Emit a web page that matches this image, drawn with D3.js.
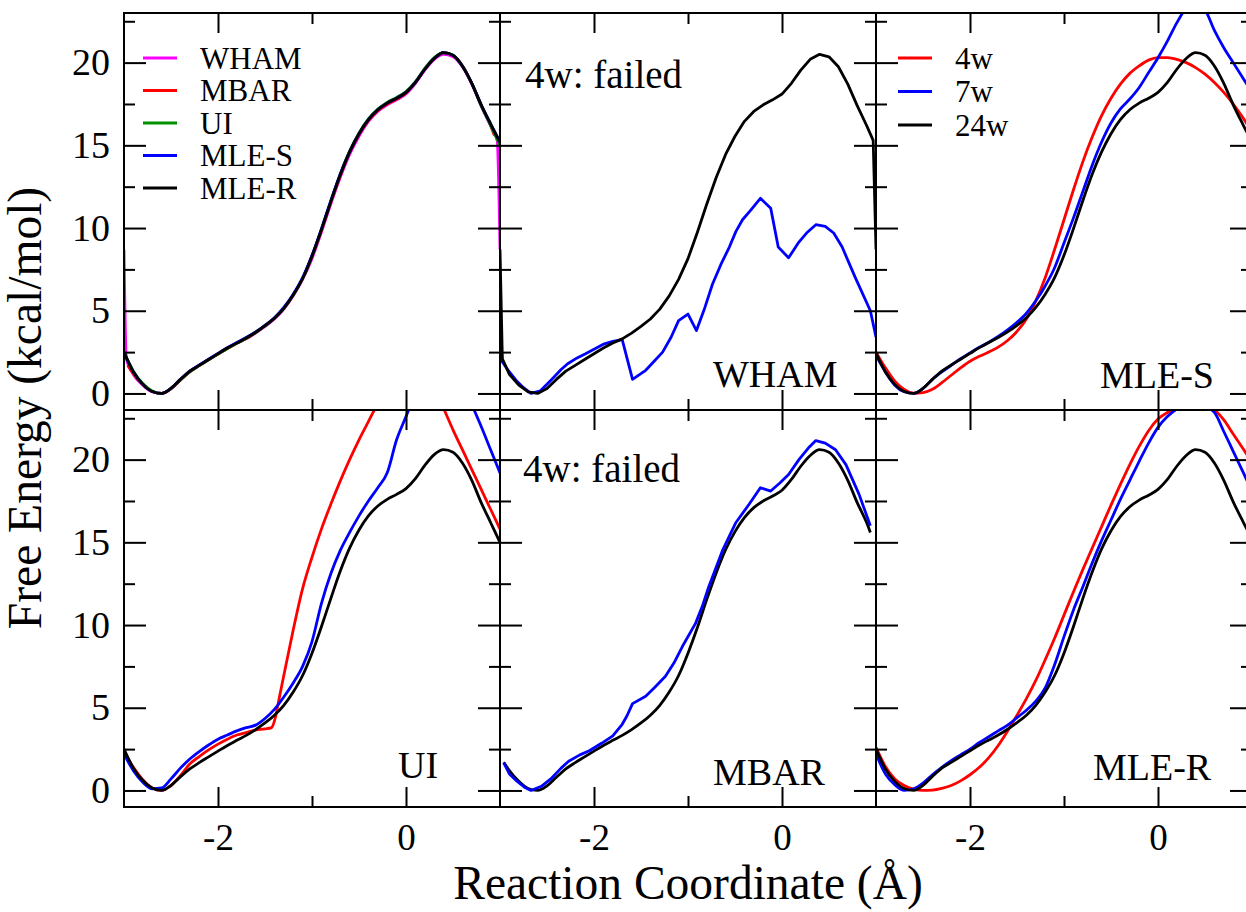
<!DOCTYPE html>
<html>
<head>
<meta charset="utf-8">
<script src="https://cdn.jsdelivr.net/npm/d3@7"></script>
<style>
  body { margin: 0; background: #fff; }
  svg { display: block; }
</style>
</head>
<body>
<svg id="chart" width="1246" height="912"></svg>
<script>
// ---------------- DATA ----------------
const xGrid = [-3.0,-2.9,-2.8,-2.7,-2.6,-2.5,-2.4,-2.3,-2.2,-2.1,-2.0,-1.9,-1.8,-1.7,-1.6,-1.5,-1.4,-1.3,-1.2,-1.1,-1.0,
               -0.9,-0.8,-0.7,-0.6,-0.5,-0.4,-0.3,-0.2,-0.1,0.0,0.1,0.2,0.3,0.4,0.5,0.6,0.7,0.8,0.9,1.0];

// 24-window results (panel 1, and black curves of the other panels)
const whamX = [-3.0,-2.975,-2.9,-2.8,-2.7,-2.6,-2.5,-2.4,-2.3,-2.2,-2.1,-2.0,-1.9,-1.8,-1.7,-1.6,-1.5,-1.4,-1.3,-1.2,-1.1,-1.0,
               -0.9,-0.8,-0.7,-0.6,-0.5,-0.4,-0.3,-0.2,-0.1,0.0,0.1,0.2,0.3,0.4,0.5,0.6,0.7,0.8,0.9,0.97,1.0];
const wham24 = [8.7,2.1,1.15,0.5,0.1,0.0,0.3,0.85,1.35,1.7,2.05,2.4,2.75,3.05,3.3,3.65,4.05,4.5,5.1,5.9,6.9,8.15,
                9.75,11.45,13.05,14.45,15.55,16.45,17.05,17.45,17.75,18.1,18.75,19.55,20.2,20.5,20.35,19.75,18.7,17.4,16.2,15.3,8.7];
const mbarX = [-2.96,-2.9,-2.8,-2.7,-2.6,-2.5,-2.4,-2.3,-2.2,-2.1,-2.0,-1.9,-1.8,-1.7,-1.6,-1.5,-1.4,-1.3,-1.2,-1.1,-1.0,
               -0.9,-0.8,-0.7,-0.6,-0.5,-0.4,-0.3,-0.2,-0.1,0.0,0.1,0.2,0.3,0.4,0.5,0.6,0.7,0.8,0.9,0.94];
const mbar24 = [1.7,1.2,0.55,0.12,0.0,0.28,0.8,1.3,1.68,2.03,2.38,2.72,3.03,3.33,3.68,4.08,4.55,5.15,5.95,6.95,8.3,
                9.85,11.55,13.15,14.55,15.65,16.5,17.1,17.5,17.8,18.15,18.8,19.6,20.25,20.6,20.45,19.8,18.75,17.4,16.2,15.6];
const ui24   = [2.5,1.35,0.6,0.15,0.0,0.3,0.82,1.3,1.68,2.03,2.38,2.72,3.03,3.33,3.68,4.08,4.55,5.15,5.95,6.95,8.3,
                9.9,11.6,13.25,14.65,15.75,16.6,17.2,17.6,17.9,18.25,18.85,19.65,20.3,20.6,20.45,19.8,18.75,17.4,16.2,15.0];
const mles24 = [2.45,1.3,0.55,0.12,0.0,0.3,0.85,1.35,1.72,2.07,2.42,2.77,3.08,3.38,3.72,4.12,4.58,5.2,6.0,7.0,8.35,
                9.95,11.65,13.25,14.6,15.7,16.55,17.15,17.55,17.85,18.2,18.8,19.6,20.25,20.6,20.45,19.8,18.75,17.45,16.3,15.2];
const mler24 = [2.5,1.3,0.55,0.12,0.0,0.3,0.85,1.35,1.7,2.05,2.4,2.75,3.05,3.35,3.7,4.1,4.55,5.15,5.95,6.95,8.3,
                9.9,11.6,13.2,14.6,15.7,16.55,17.15,17.55,17.85,18.2,18.8,19.6,20.25,20.6,20.45,19.8,18.75,17.45,16.3,15.2];

// 7-window and 4-window results
const wham7X = [-3.0,-2.975,-2.9,-2.83,-2.75,-2.67,-2.57,-2.45,-2.35,-2.28,-2.18,-2.09,-1.99,-1.89,-1.80,-1.70,-1.59,-1.45,
                -1.36,-1.27,-1.18,-1.10,-1.0,-0.91,-0.82,-0.74,-0.65,-0.56,-0.49,-0.42,-0.33,-0.23,-0.12,-0.04,0.07,0.18,
                0.27,0.36,0.46,0.55,0.64,0.78,0.94,1.0];
const wham7  = [3.4,1.9,1.3,0.8,0.35,0.0,0.16,0.85,1.45,1.8,2.15,2.4,2.7,3.0,3.15,3.25,0.85,1.4,
                1.95,2.5,3.4,4.4,4.8,3.8,5.2,6.6,7.8,8.85,9.8,10.5,11.1,11.8,11.2,8.85,8.2,9.15,
                9.75,10.2,10.1,9.7,8.85,7.0,5.0,3.4];
const mbar7X = [-2.96,-2.9,-2.82,-2.74,-2.67,-2.56,-2.45,-2.35,-2.27,-2.15,-2.05,-1.92,-1.80,-1.70,-1.65,-1.59,-1.45,-1.35,
                -1.24,-1.15,-1.06,-0.92,-0.85,-0.78,-0.63,-0.49,-0.35,-0.23,-0.12,-0.02,0.07,0.18,0.28,0.36,0.46,0.57,
                0.68,0.82,0.94];
const mbar7  = [1.67,1.0,0.56,0.2,0.0,0.25,0.75,1.35,1.77,2.15,2.4,2.85,3.3,4.0,4.5,5.25,5.7,6.25,
                6.9,7.7,8.7,10.1,11.1,12.3,14.55,16.2,17.3,18.3,18.1,18.6,19.1,20.0,20.7,21.15,21.0,20.6,
                19.7,17.9,16.0];
const ui4X = [-3.0,-2.9,-2.8,-2.7,-2.6,-2.5,-2.4,-2.3,-2.2,-2.1,-2.0,-1.9,-1.8,-1.7,-1.6,-1.5,-1.43,-1.39,-1.35,-1.3,-1.2,
              -1.1,-1.0,-0.9,-0.8,-0.7,-0.6,-0.5,-0.4,-0.3,-0.2,-0.1,0.0,0.1,0.2,0.3,0.4,0.5,0.6,0.7,0.8,0.9,1.0];
const ui4  = [2.3,1.4,0.65,0.15,0.0,0.3,0.9,1.6,2.05,2.45,2.8,3.1,3.35,3.5,3.65,3.72,3.8,4.4,5.55,6.95,9.7,
              12.2,14.1,15.8,17.3,18.7,20.0,21.2,22.3,23.4,24.4,25.1,25.6,25.8,25.4,24.4,23.1,21.8,20.6,19.4,18.2,17.0,15.8];
const ui7   = [2.2,1.2,0.5,0.1,0.15,0.7,1.35,1.9,2.35,2.75,3.1,3.35,3.6,3.8,3.95,4.35,4.9,5.65,6.5,7.5,9.0,
               11.3,13.1,14.5,15.6,16.6,17.5,18.3,19.2,21.2,22.6,24.0,25.0,25.5,25.6,25.2,24.3,23.3,22.0,20.6,19.2];
const mles4 = [2.5,1.55,0.75,0.25,0.02,0.05,0.25,0.65,1.1,1.55,1.95,2.25,2.5,2.8,3.2,3.75,4.5,5.6,7.0,8.7,10.5,
               12.3,14.0,15.5,16.8,17.85,18.7,19.35,19.8,20.15,20.3,20.3,20.2,20.0,19.7,19.3,18.8,18.2,17.5,16.7,15.8];
const mles7 = [2.3,1.3,0.5,0.1,0.0,0.3,0.85,1.3,1.7,2.1,2.45,2.8,3.1,3.45,3.85,4.3,4.85,5.6,6.5,7.6,9.1,
               10.6,12.2,13.8,15.2,16.35,17.2,17.8,18.5,19.4,20.3,21.3,22.4,23.3,23.6,23.2,21.95,20.9,20.0,19.1,18.2];
const mler4 = [2.6,1.45,0.7,0.3,0.08,0.0,0.02,0.12,0.3,0.58,0.95,1.4,1.98,2.72,3.6,4.55,5.55,6.65,7.9,9.2,10.6,
               12.0,13.35,14.65,15.95,17.25,18.5,19.7,20.8,21.75,22.45,22.85,23.1,23.3,23.35,23.25,23.0,22.4,21.55,20.7,19.85];
const mler7 = [2.2,1.0,0.35,0.0,0.1,0.45,0.95,1.4,1.8,2.15,2.5,2.9,3.25,3.6,3.95,4.4,4.85,5.4,6.2,7.6,9.3,
               10.9,12.3,13.75,15.1,16.35,17.6,18.75,19.9,21.0,21.95,22.6,23.05,23.3,23.35,23.2,22.85,21.7,20.5,19.3,18.1];

const xMajorTicks = [-2, 0];
const xMinorTicks = [-1];
const yMajorTicks = [0, 5, 10, 15, 20];
const yMinorTicks = [2.5, 7.5, 12.5, 17.5, 22.5];
const methodLegend = ["WHAM", "MBAR", "UI", "MLE-S", "MLE-R"];
const windowLegend = ["4w", "7w", "24w"];
const panelLabels = ["", "WHAM", "MLE-S", "UI", "MBAR", "MLE-R"];
const failedNote = "4w: failed";
const xTitle = "Reaction Coordinate (Å)";
const yTitle = "Free Energy (kcal/mol)";

// ---------------- LAYOUT ----------------
const FONT = "'Liberation Serif', Tinos, 'Nimbus Roman', 'Times New Roman', 'DejaVu Serif', serif";
const C = { magenta: "#ff00ff", red: "#ff0000", green: "#009000", blue: "#0000ff", black: "#000000" };
const L = 124, T = 13, PW = 376, PH = 397;
const LW = 2.8;
const x = d3.scaleLinear().domain([-3, 1]).range([0, PW]);
const y = d3.scaleLinear().domain([-1, 23]).range([PH, 0]);

const S = (xs, ys, color, linear) => ({ xs, ys, color, linear });
const panels = [
  { col: 0, row: 0, series: [S(whamX, wham24, C.magenta), S(mbarX, mbar24, C.red), S(xGrid, ui24, C.green),
                             S(xGrid, mles24, C.blue), S(xGrid, mler24, C.black)],
    legend: methodLegend.map((t, i) => [t, [C.magenta, C.red, C.green, C.blue, C.black][i]]),
    legendPos: { x0: 19, x1: 53, tx: 76, y0: 45, dy: 32.5 } },
  { col: 1, row: 0, series: [S(wham7X, wham7, C.blue, true), S(whamX, wham24, C.black, true)],
    label: panelLabels[1], labelPos: [213, 374], note: true, notePos: [25, 75] },
  { col: 2, row: 0, series: [S(xGrid, mles4, C.red), S(xGrid, mles7, C.blue), S(xGrid, mles24, C.black)],
    label: panelLabels[2], labelPos: [224, 375],
    legend: windowLegend.map((t, i) => [t, [C.red, C.blue, C.black][i]]),
    legendPos: { x0: 22, x1: 56, tx: 79, y0: 45, dy: 33.5 } },
  { col: 0, row: 1, series: [S(ui4X, ui4, C.red), S(xGrid, ui7, C.blue), S(xGrid, ui24, C.black)],
    label: panelLabels[3], labelPos: [274, 368] },
  { col: 1, row: 1, series: [S(mbarX, mbar24, C.black), S(mbar7X, mbar7, C.blue, true)],
    label: panelLabels[4], labelPos: [213, 375], note: true, notePos: [23, 72] },
  { col: 2, row: 1, series: [S(xGrid, mler4, C.red), S(xGrid, mler7, C.blue), S(xGrid, mler24, C.black)],
    label: panelLabels[5], labelPos: [217, 370] }
];

const svg = d3.select("#chart").attr("font-family", FONT);
const defs = svg.append("defs");
defs.append("clipPath").attr("id", "pclip").append("rect")
  .attr("x", 0).attr("y", 0).attr("width", PW).attr("height", PH);

function styleAxis(sel, fontSize) {
  sel.attr("font-family", FONT).attr("font-size", fontSize);
  sel.select(".domain").remove();
  sel.selectAll(".tick line").attr("stroke", "#000").attr("stroke-width", 2);
  sel.selectAll(".tick text").attr("fill", "#000").style("font-family", FONT).style("font-size", fontSize + "px");
}
function addText(parent, xx, yy, size, str) {
  return parent.append("text").attr("x", xx).attr("y", yy).attr("fill", "#000")
    .style("font-family", FONT).style("font-size", size + "px").text(str);
}

panels.forEach(p => {
  const g = svg.append("g").attr("transform", `translate(${L + p.col * PW},${T + p.row * PH})`);
  const lg = g.append("g").attr("clip-path", "url(#pclip)");
  p.series.forEach(s => {
    const pts = s.xs.map((xv, i) => [xv, s.ys[i]]);
    const line = d3.line().x(d => x(d[0])).y(d => y(d[1]))
      .curve(s.linear ? d3.curveLinear : d3.curveMonotoneX);
    lg.append("path").attr("d", line(pts)).attr("fill", "none")
      .attr("stroke", s.color).attr("stroke-width", LW).attr("stroke-linejoin", "round");
  });

  const noFmt = () => "";
  styleAxis(g.append("g").attr("transform", `translate(0,${PH})`)
    .call(d3.axisBottom(x).tickValues(xMajorTicks).tickSize(-20).tickPadding(17)
      .tickFormat(p.row === 1 ? d => String(d) : noFmt)), 37);
  styleAxis(g.append("g").attr("transform", `translate(0,${PH})`)
    .call(d3.axisBottom(x).tickValues(xMinorTicks).tickSize(-11).tickFormat(noFmt)), 10);
  styleAxis(g.append("g").call(d3.axisTop(x).tickValues(xMajorTicks).tickSize(-20).tickFormat(noFmt)), 10);
  styleAxis(g.append("g").call(d3.axisTop(x).tickValues(xMinorTicks).tickSize(-11).tickFormat(noFmt)), 10);
  styleAxis(g.append("g")
    .call(d3.axisLeft(y).tickValues(yMajorTicks).tickSize(-22).tickPadding(14)
      .tickFormat(p.col === 0 ? d => String(d) : noFmt)), 38);
  styleAxis(g.append("g").call(d3.axisLeft(y).tickValues(yMinorTicks).tickSize(-11).tickFormat(noFmt)), 10);
  styleAxis(g.append("g").attr("transform", `translate(${PW},0)`)
    .call(d3.axisRight(y).tickValues(yMajorTicks).tickSize(-22).tickFormat(noFmt)), 10);
  styleAxis(g.append("g").attr("transform", `translate(${PW},0)`)
    .call(d3.axisRight(y).tickValues(yMinorTicks).tickSize(-11).tickFormat(noFmt)), 10);

  g.append("rect").attr("x", 0).attr("y", 0).attr("width", PW).attr("height", PH)
    .attr("fill", "none").attr("stroke", "#000").attr("stroke-width", 2);

  if (p.legend) {
    const lp = p.legendPos;
    p.legend.forEach(([t, col], i) => {
      const yy = lp.y0 + i * lp.dy;
      g.append("line").attr("x1", lp.x0).attr("x2", lp.x1).attr("y1", yy).attr("y2", yy)
        .attr("stroke", col).attr("stroke-width", LW);
      addText(g, lp.tx, yy + 10.5, 31, t);
    });
  }
  if (p.label) addText(g, p.labelPos[0], p.labelPos[1], 38, p.label);
  if (p.note) addText(g, p.notePos[0], p.notePos[1], 39, failedNote);
});

addText(svg, 688, 899, 47.5, xTitle).attr("text-anchor", "middle");
addText(svg, 0, 0, 47.5, yTitle).attr("text-anchor", "middle")
  .attr("transform", "translate(41,408) rotate(-90)");
</script>
</body>
</html>
